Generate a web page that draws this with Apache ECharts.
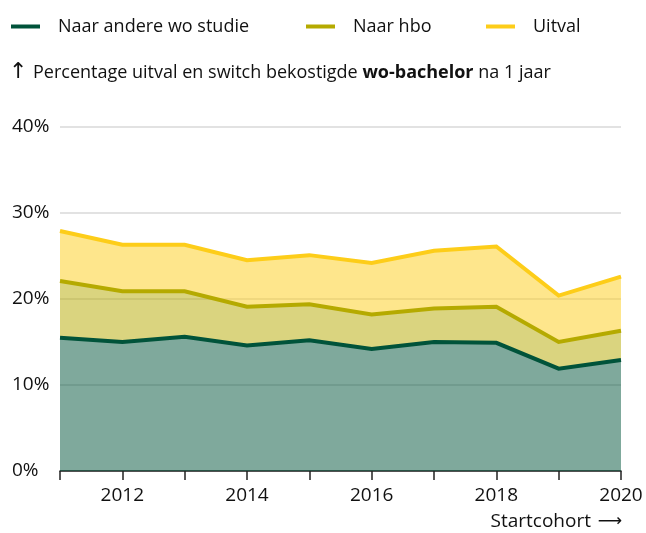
<!DOCTYPE html>
<html>
<head>
<meta charset="utf-8">
<script src="https://cdn.jsdelivr.net/npm/echarts@6/dist/echarts.min.js"></script>
<style>
  html, body { margin: 0; padding: 0; background: #fff; }
  #chart { width: 646px; height: 533px; }
</style>
</head>
<body>
<div id="chart"></div>
<script>
// Start cohorts of the funded wo-bachelor
const years = ['2011', '2012', '2013', '2014', '2015', '2016', '2017', '2018', '2019', '2020'];

// Share (%) after one year, stacked from the bottom up
const naarAndereWo = [15.5, 15.0, 15.6, 14.6, 15.2, 14.2, 15.0, 14.9, 11.9, 12.9];
const naarHbo      = [6.6, 5.9, 5.3, 4.5, 4.2, 4.0, 3.9, 4.2, 3.1, 3.4];
const uitval       = [5.8, 5.4, 5.4, 5.4, 5.7, 6.0, 6.7, 7.0, 5.4, 6.3];

const yTicks = { min: 0, max: 40, interval: 10 };

const FONT = '"Open Sans", "DejaVu Sans", sans-serif';
const TEXT = '#111111';

const groups = [
  { name: 'Naar andere wo studie', data: naarAndereWo, color: '#00533a' },
  { name: 'Naar hbo',              data: naarHbo,      color: '#b5aa00' },
  { name: 'Uitval',                data: uitval,       color: '#fdcd19' }
];

// Filled bands underneath, outlines on top
const areaSeries = groups.map(g => ({
  name: g.name,
  type: 'line',
  stack: 'band',
  data: g.data,
  symbol: 'none',
  silent: true,
  z: 2,
  lineStyle: { width: 0 },
  areaStyle: { color: g.color, opacity: 0.5 }
}));

const lineSeries = groups.map(g => ({
  name: g.name,
  type: 'line',
  stack: 'edge',
  data: g.data,
  symbol: 'none',
  z: 3,
  lineStyle: { width: 4, color: g.color, join: 'miter' },
  itemStyle: { color: g.color }
}));

const legendLefts = [11, 306, 486];
const legends = groups.map((g, i) => ({
  left: legendLefts[i],
  top: 14,
  padding: 0,
  itemWidth: 29,
  itemHeight: 4,
  data: [{ name: g.name, icon: 'rect', itemStyle: { color: g.color } }],
  textStyle: {
    fontFamily: FONT,
    fontSize: 18,
    color: TEXT,
    lineHeight: 22,
    padding: [3, 0, 0, 13]
  }
}));

const chart = echarts.init(document.getElementById('chart'), null, { renderer: 'canvas' });

chart.setOption({
  backgroundColor: '#ffffff',
  animation: false,
  legend: legends,
  grid: { left: 60, right: 25, top: 127, bottom: 62, containLabel: false },
  xAxis: {
    type: 'category',
    data: years,
    boundaryGap: false,
    axisLine: { show: true, lineStyle: { color: '#222', width: 1.5 } },
    axisTick: { show: true, interval: 0, length: 9, lineStyle: { color: '#222', width: 1.5 } },
    axisLabel: {
      interval: (i) => i % 2 === 1,
      margin: 15,
      fontFamily: FONT,
      fontSize: 19,
      color: TEXT
    },
    splitLine: { show: false }
  },
  yAxis: {
    type: 'value',
    min: yTicks.min,
    max: yTicks.max,
    interval: yTicks.interval,
    axisLine: { show: false },
    axisTick: { show: false },
    axisLabel: {
      formatter: '{value}%',
      align: 'left',
      margin: 48,
      padding: [8, 0, 0, 0],
      fontFamily: FONT,
      fontSize: 19,
      color: TEXT
    },
    splitLine: { lineStyle: { color: '#d9d9d9', width: 1.5 } }
  },
  graphic: [
    {
      type: 'text',
      left: 9,
      top: 61,
      style: {
        text: '↑',
        fontFamily: '"DejaVu Sans", sans-serif',
        fontSize: 22,
        fill: TEXT
      }
    },
    {
      type: 'text',
      left: 33,
      top: 64,
      style: {
        text: '{n|Percentage uitval en switch bekostigde }{b|wo-bachelor}{n| na 1 jaar}',
        rich: {
          n: { fontFamily: FONT, fontSize: 18, fill: TEXT, color: TEXT },
          b: { fontFamily: FONT, fontSize: 18, fontWeight: 'bold', fill: TEXT, color: TEXT }
        }
      }
    },
    {
      type: 'text',
      right: 24,
      top: 512,
      style: {
        text: '{t|Startcohort}  {a|⟶}',
        rich: {
          t: { fontFamily: FONT, fontSize: 19, fill: TEXT, color: TEXT },
          a: { fontFamily: '"DejaVu Sans", sans-serif', fontSize: 17, fill: TEXT, color: TEXT }
        }
      }
    }
  ],
  series: [...areaSeries, ...lineSeries]
});
</script>
</body>
</html>
